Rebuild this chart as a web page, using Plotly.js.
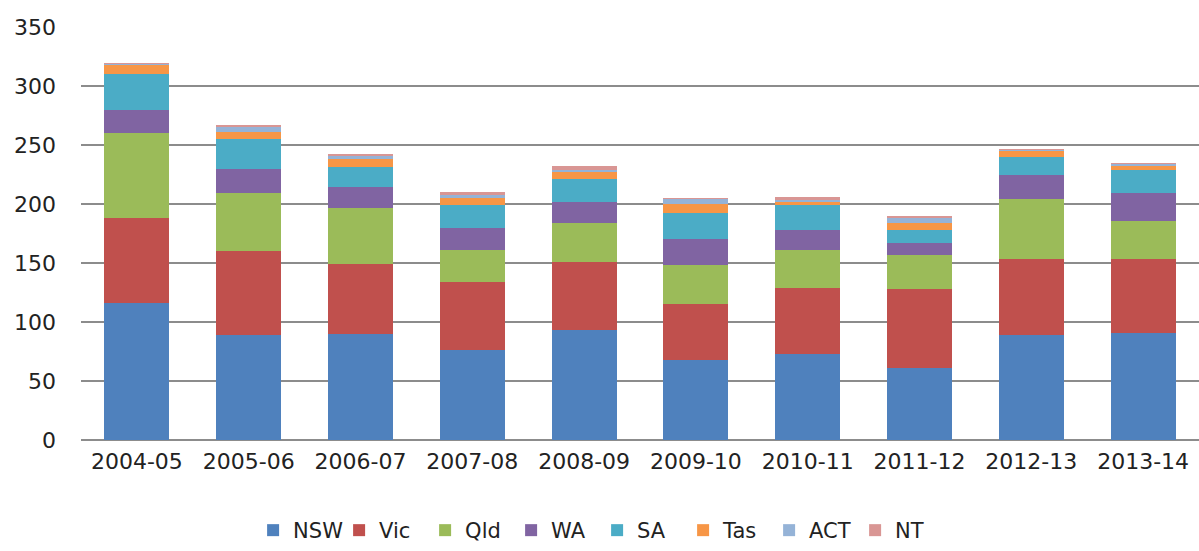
<!DOCTYPE html>
<html>
<head>
<meta charset="utf-8">
<script src="https://cdn.plot.ly/plotly-3.0.1.min.js"></script>
<style>html,body{margin:0;padding:0;background:#fff;}#chart{width:1199px;height:551px;}</style>
</head>
<body>
<div id="chart"></div>
<script>
const years = ["2004-05","2005-06","2006-07","2007-08","2008-09","2009-10","2010-11","2011-12","2012-13","2013-14"];
const NSW = [116, 89, 90, 76, 93, 68, 73, 61, 89, 91];
const Vic = [72, 71, 59, 58, 58, 47, 56, 67, 64, 62];
const Qld = [72, 49, 48, 27, 33, 33, 32, 29, 51, 33];
const WA  = [20, 21, 17, 19, 18, 22, 17, 10, 21, 23];
const SA  = [30, 25, 17, 19, 19, 22, 21, 11, 15, 20];
const Tas = [8, 6, 7, 6, 6, 8, 3, 6, 5, 3.5];
const ACT = [0.5, 4, 3, 3, 1.5, 4, 1, 4, 0.5, 1];
const NT  = [1, 2, 1, 2, 3.5, 1, 3, 2, 0.7, 1.5];
const seriesNames = ["NSW","Vic","Qld","WA","SA","Tas","ACT","NT"];
const seriesVals = [NSW, Vic, Qld, WA, SA, Tas, ACT, NT];
const colors = ["#4F81BD","#C0504D","#9BBB59","#8064A2","#4BACC6","#F79646","#95B3D7","#D99694"];

const traces = seriesNames.map((n,i)=>({
  type:'bar', name:n, x:years, y:seriesVals[i],
  marker:{color:colors[i], line:{width:0}},
  hoverinfo:'x+y+name'
}));

const fam = '"DejaVu Sans", "Open Sans", sans-serif';
const layout = {
  width:1199, height:551,
  barmode:'stack', bargap:0.42,
  margin:{l:81, r:0, t:27, b:111},
  paper_bgcolor:'#fff', plot_bgcolor:'#fff',
  font:{family:fam, size:21, color:'#222'},
  xaxis:{type:'category', showgrid:false, showline:false, zeroline:false, ticks:'',
         tickfont:{family:fam, size:22, color:'#222'}, ticklabelstandoff:6},
  yaxis:{range:[0,350], dtick:50, showgrid:true, gridcolor:'#8c8c8c', gridwidth:2,
         zeroline:true, zerolinecolor:'#8c8c8c', zerolinewidth:2, showline:false, ticks:'',
         tickfont:{family:fam, size:22, color:'#222'}, ticklabelstandoff:24},
  legend:{orientation:'h', xref:'container', yref:'container', x:0.498, xanchor:'center',
          y:0, yanchor:'bottom', font:{family:fam, size:21, color:'#222'},
          entrywidth:41, entrywidthmode:'pixels', traceorder:'normal', itemclick:false},
  showlegend:true
};
Plotly.newPlot('chart', traces, layout, {displayModeBar:false, staticPlot:true});
</script>
</body>
</html>
